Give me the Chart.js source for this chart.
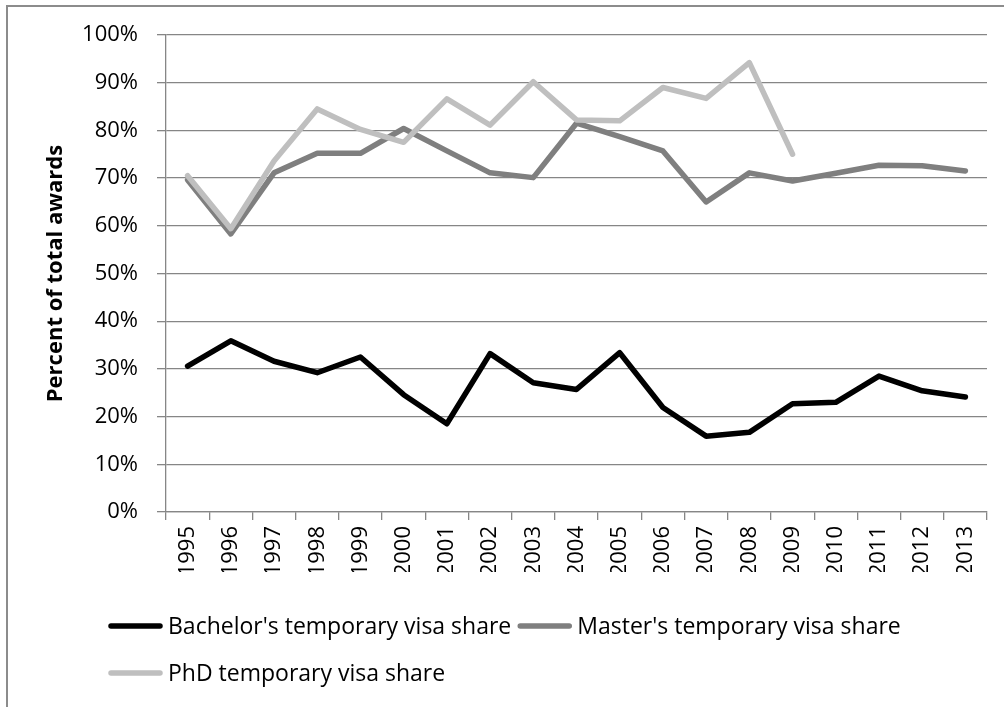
<!DOCTYPE html>
<html><head><meta charset="utf-8">
<script src="https://cdn.jsdelivr.net/npm/chart.js@4.4.1/dist/chart.umd.min.js"></script>
<style>html,body{margin:0;padding:0;background:#fff;}canvas{display:block;}</style>
</head><body>
<canvas id="c" width="1004" height="707"></canvas>
<script>
const years = ['1995','1996','1997','1998','1999','2000','2001','2002','2003','2004','2005','2006','2007','2008','2009','2010','2011','2012','2013'];
const bachelorShare = [30.6,35.9,31.6,29.2,32.5,24.6,18.5,33.2,27.1,25.7,33.4,21.9,15.9,16.7,22.7,23.0,28.5,25.4,24.1];
const masterShare = [69.6,58.3,71.1,75.2,75.2,80.4,75.7,71.1,70.1,81.5,78.7,75.7,65.0,71.1,69.4,71.0,72.7,72.6,71.5];
const phdShare = [70.5,59.4,73.6,84.5,80.2,77.5,86.6,81.1,90.2,82.2,82.0,89.0,86.7,94.2,75.0,null,null,null,null];
const seriesLabels = ["Bachelor's temporary visa share","Master's temporary visa share","PhD temporary visa share"];
const seriesColors = ['#000000','#7f7f7f','#bfbfbf'];
const yAxisTitle = 'Percent of total awards';

const FONT = '"Open Sans", "Liberation Sans", sans-serif';
const GRID = '#868686';

const framePlugin = {
  id: 'frame',
  beforeDraw(chart) {
    const ctx = chart.ctx;
    ctx.save();
    ctx.fillStyle = '#fff';
    ctx.fillRect(0, 0, chart.width, chart.height);
    ctx.strokeStyle = '#8c8c8c';
    ctx.lineWidth = 2;
    ctx.beginPath();
    ctx.moveTo(7, chart.height);
    ctx.lineTo(7, 6);
    ctx.lineTo(chart.width, 6);
    ctx.stroke();
    ctx.restore();
  }
};

const legendPlugin = {
  id: 'excelLegend',
  afterDraw(chart) {
    const ctx = chart.ctx;
    const ca = chart.chartArea;
    ctx.save();
    ctx.font = '23px ' + FONT;
    ctx.textBaseline = 'middle';
    ctx.textAlign = 'left';
    const startX = 108, lineW = 55, gap = 5, itemGap = 6, rowH = 47;
    let x = startX, y = ca.bottom + 114;
    const maxRight = 990;
    chart.data.datasets.forEach((ds) => {
      const tw = ctx.measureText(ds.label).width;
      const w = lineW + gap + tw;
      if (x > startX && x + w > maxRight) { x = startX; y += rowH; }
      ctx.strokeStyle = ds.borderColor;
      ctx.lineWidth = 5.5;
      ctx.lineCap = 'round';
      ctx.beginPath();
      ctx.moveTo(x + 3, y);
      ctx.lineTo(x + lineW - 3, y);
      ctx.stroke();
      ctx.fillStyle = '#000';
      ctx.fillText(ds.label, x + lineW + gap, y + 1);
      x += w + itemGap;
    });
    ctx.restore();
  }
};

const datasets = [bachelorShare, masterShare, phdShare].map((d, i) => ({
  label: seriesLabels[i],
  data: d,
  borderColor: seriesColors[i],
  backgroundColor: seriesColors[i],
  borderWidth: 5.5,
  pointRadius: 0,
  pointHoverRadius: 0,
  tension: 0,
  spanGaps: false,
  borderCapStyle: 'round',
  borderJoinStyle: 'round',
  fill: false,
  order: 2 - i
}));

new Chart(document.getElementById('c'), {
  type: 'line',
  data: { labels: years, datasets },
  options: {
    responsive: false,
    animation: false,
    devicePixelRatio: 1,
    layout: { padding: { left: 0, top: 35, right: 17, bottom: 135 } },
    plugins: { legend: { display: false }, tooltip: { enabled: false } },
    scales: {
      x: {
        type: 'category',
        offset: true,
        grid: { offset: true, drawOnChartArea: false, drawTicks: true, tickLength: 8, color: GRID, lineWidth: 1.3 },
        border: { display: true, color: GRID, width: 1.3 },
        ticks: { minRotation: 90, maxRotation: 90, autoSkip: false, padding: 6, color: '#000', font: { family: FONT, size: 22 } },
        afterFit(scale) { scale.height = 60; }
      },
      y: {
        min: 0, max: 100,
        ticks: { stepSize: 10, padding: 19, color: '#000', font: { family: FONT, size: 22 }, callback: (v) => v + '%' },
        grid: { color: GRID, lineWidth: 1.3, tickLength: 9, drawTicks: true },
        border: { display: true, color: GRID, width: 1.3 },
        title: { display: true, text: yAxisTitle, color: '#000', font: { family: FONT, size: 22, weight: 'bold' }, padding: { top: 43, bottom: 0 } },
        afterFit(scale) { scale.width = 166; }
      }
    }
  },
  plugins: [framePlugin, legendPlugin]
});
</script>
</body></html>
